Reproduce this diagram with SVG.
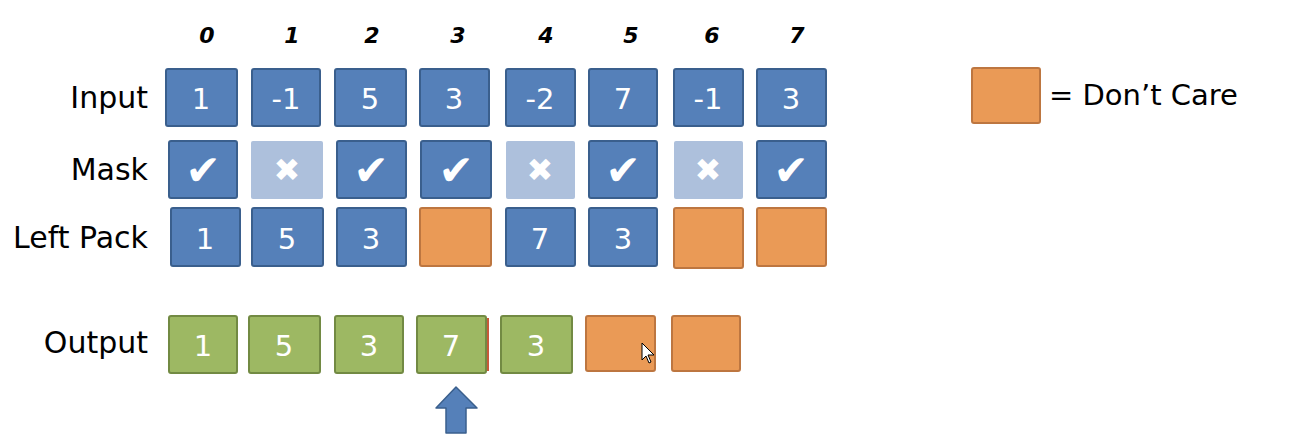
<svg xmlns="http://www.w3.org/2000/svg" width="1302" height="446" viewBox="0 0 1302 446">
<style>
.lbl{font-family:"DejaVu Sans","Noto Sans",sans-serif;font-size:30px;fill:#000;text-anchor:end}
.idx{font-family:"DejaVu Sans","Noto Sans",sans-serif;font-size:22px;font-style:italic;font-weight:bold;fill:#000;text-anchor:middle}
.num{font-family:"DejaVu Sans","Noto Sans",sans-serif;font-size:29px;fill:#fff;text-anchor:middle}
.sym{font-family:"DejaVu Sans",sans-serif;font-size:42px;fill:#fff;text-anchor:middle}
.symx{font-family:"DejaVu Sans",sans-serif;font-size:32px;fill:#fff;text-anchor:middle}
.b{fill:#5580B9;stroke:#3A5F8D;stroke-width:2}
.lb{fill:#ADC0DC}
.o{fill:#EA9A56;stroke:#BD7640;stroke-width:2}
.g{fill:#9DB863;stroke:#728A43;stroke-width:2}
.leg{font-family:"DejaVu Sans","Noto Sans",sans-serif;font-size:29px;fill:#000}
</style>
<rect width="1302" height="446" fill="#fff"/>
<g id="labels">
<text class="lbl" x="148" y="108">Input</text>
<text class="lbl" x="148" y="180">Mask</text>
<text class="lbl" x="148" y="248">Left Pack</text>
<text class="lbl" x="148" y="353">Output</text>
</g>
<g id="indices">
<text class="idx" x="207" y="43">0</text>
<text class="idx" x="292" y="43">1</text>
<text class="idx" x="372" y="43">2</text>
<text class="idx" x="458" y="43">3</text>
<text class="idx" x="546" y="43">4</text>
<text class="idx" x="631" y="43">5</text>
<text class="idx" x="712" y="43">6</text>
<text class="idx" x="797" y="43">7</text>
</g>
<g id="input-row">
<g id="in0"><rect class="b" x="166" y="69" width="71" height="57" rx="2"/><text class="num" x="201" y="109">1</text></g>
<g id="in1"><rect class="b" x="252" y="69" width="68" height="57" rx="2"/><text class="num" x="286" y="109">-1</text></g>
<g id="in2"><rect class="b" x="335" y="69" width="71" height="57" rx="2"/><text class="num" x="370" y="109">5</text></g>
<g id="in3"><rect class="b" x="420" y="69" width="69" height="57" rx="2"/><text class="num" x="454" y="109">3</text></g>
<g id="in4"><rect class="b" x="506" y="69" width="69" height="57" rx="2"/><text class="num" x="540" y="109">-2</text></g>
<g id="in5"><rect class="b" x="589" y="69" width="68" height="57" rx="2"/><text class="num" x="623" y="109">7</text></g>
<g id="in6"><rect class="b" x="674" y="69" width="69" height="57" rx="2"/><text class="num" x="708" y="109">-1</text></g>
<g id="in7"><rect class="b" x="757" y="69" width="69" height="57" rx="2"/><text class="num" x="791" y="109">3</text></g>
</g>
<g id="mask-row">
<g id="m0"><rect class="b" x="169" y="141" width="68" height="57" rx="2"/><text class="sym" x="203" y="185">✔</text></g>
<g id="m1"><rect class="lb" x="251" y="141" width="72" height="58" rx="2"/><text class="symx" x="287" y="181">✖</text></g>
<g id="m2"><rect class="b" x="337" y="141" width="69" height="57" rx="2"/><text class="sym" x="371" y="185">✔</text></g>
<g id="m3"><rect class="b" x="421" y="141" width="70" height="57" rx="2"/><text class="sym" x="456" y="185">✔</text></g>
<g id="m4"><rect class="lb" x="506" y="141" width="69" height="58" rx="2"/><text class="symx" x="540" y="181">✖</text></g>
<g id="m5"><rect class="b" x="589" y="141" width="68" height="57" rx="2"/><text class="sym" x="623" y="185">✔</text></g>
<g id="m6"><rect class="lb" x="674" y="141" width="69" height="58" rx="2"/><text class="symx" x="708" y="181">✖</text></g>
<g id="m7"><rect class="b" x="757" y="141" width="69" height="57" rx="2"/><text class="sym" x="791" y="185">✔</text></g>
</g>
<g id="leftpack-row">
<g id="lp0"><rect class="b" x="171" y="208" width="69" height="58" rx="2"/><text class="num" x="205" y="249">1</text></g>
<g id="lp1"><rect class="b" x="252" y="208" width="71" height="58" rx="2"/><text class="num" x="287" y="249">5</text></g>
<g id="lp2"><rect class="b" x="337" y="208" width="69" height="58" rx="2"/><text class="num" x="371" y="249">3</text></g>
<g id="lp3"><rect class="o" x="420" y="208" width="71" height="58" rx="2"/></g>
<g id="lp4"><rect class="b" x="506" y="208" width="69" height="58" rx="2"/><text class="num" x="540" y="249">7</text></g>
<g id="lp5"><rect class="b" x="589" y="208" width="68" height="58" rx="2"/><text class="num" x="623" y="249">3</text></g>
<g id="lp6"><rect class="o" x="674" y="208" width="69" height="60" rx="2"/></g>
<g id="lp7"><rect class="o" x="757" y="208" width="69" height="58" rx="2"/></g>
</g>
<g id="output-row">
<g id="out0"><rect class="g" x="169" y="316" width="68" height="57" rx="2"/><text class="num" x="203" y="356">1</text></g>
<g id="out1"><rect class="g" x="249" y="316" width="71" height="57" rx="2"/><text class="num" x="284" y="356">5</text></g>
<g id="out2"><rect class="g" x="335" y="316" width="68" height="57" rx="2"/><text class="num" x="369" y="356">3</text></g>
<g id="out3"><line x1="488" y1="318" x2="488" y2="371" stroke="#C65A3A" stroke-width="2"/><rect class="g" x="417" y="316" width="69" height="57" rx="2"/><text class="num" x="451" y="356">7</text></g>
<g id="out4"><rect class="g" x="501" y="316" width="71" height="57" rx="2"/><text class="num" x="536" y="356">3</text></g>
<g id="out5"><rect class="o" x="586" y="316" width="69" height="55" rx="2"/></g>
<g id="out6"><rect class="o" x="672" y="316" width="68" height="55" rx="2"/></g>
</g>
<g id="connectors">
<path d="M456,387 L477,408 L466,408 L466,433 L446,433 L446,408 L436,408 Z" fill="#5580B9" stroke="#3A5F8D" stroke-width="1.5" stroke-linejoin="round"/>
</g>
<g id="legend">
<rect class="o" x="972" y="68" width="68" height="55" rx="2"/>
<text class="leg" x="1049" y="105">= Don’t Care</text>
</g>
<g id="cursor">
<path d="M642,343 L642,360 L646,356 L649,363 L651,362 L648,355 L654,355 Z" fill="#fff" stroke="#000" stroke-width="1"/>
</g>
</svg>
